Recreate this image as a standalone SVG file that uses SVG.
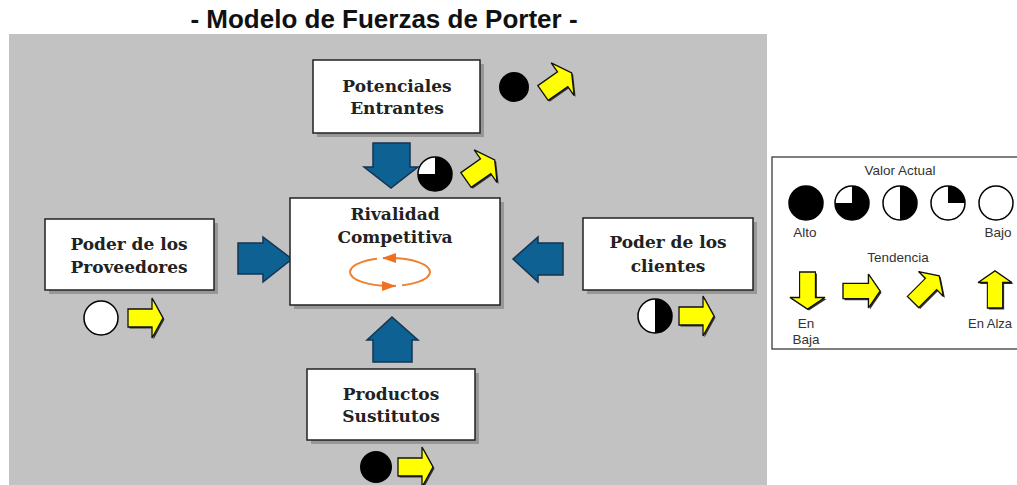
<svg xmlns="http://www.w3.org/2000/svg" xmlns:xlink="http://www.w3.org/1999/xlink" width="1017" height="485" viewBox="0 0 1017 485">
<style>
.title{font-family:"Liberation Sans",Arial,sans-serif;font-weight:bold;font-size:26px;fill:#111}
.box{fill:#fff;stroke:#222;stroke-width:1.5}
.shadow{fill:#7a7a7a;opacity:0.6}
.lbl{font-family:"DejaVu Serif",serif;font-weight:bold;font-size:17px;fill:#222;text-anchor:middle}
.blue{fill:#0d6193;stroke:#16344f;stroke-width:1.5}
.ya{fill:#ffff00;stroke:#111;stroke-width:1.3}
.yas{fill:#333}
.circ{fill:#fff;stroke:#000;stroke-width:1.5}
.blk{fill:#000}
.leg{font-family:"Liberation Sans",Arial,sans-serif;font-size:13.5px;fill:#333;text-anchor:middle}
.legs{font-family:"Liberation Sans",Arial,sans-serif;font-size:13px;fill:#333;text-anchor:start}
</style>
<defs>
<path id="ya" d="M0,-9 H24 V-20 L35,0 L24,20 V9 H0 Z"/>
</defs>
<text class="title" x="384" y="28" text-anchor="middle">- Modelo de Fuerzas de Porter -</text>
<rect x="9" y="34" width="758" height="451" fill="#c2c2c2"/>

<g id="connectors">
<polygon class="blue" points="373,143 410,143 410,167 418,167 391,188 364,167 373,167"/>
<polygon class="blue" points="238,243 263,243 263,237 292,259 263,282 263,274 238,274"/>
<polygon class="blue" points="563,243 538,243 538,237 513,259 538,282 538,275 563,275"/>
<polygon class="blue" points="392,317 418,340 412,340 412,362 373,362 373,340 367,340"/>
</g>

<g id="node-potenciales">
<rect class="shadow" x="317" y="64" width="167" height="73"/>
<rect class="box" x="313" y="60" width="167" height="73"/>
<text class="lbl" x="397" y="92">Potenciales</text>
<text class="lbl" x="397" y="114">Entrantes</text>
<circle class="blk" cx="514" cy="87" r="15"/>
<use href="#ya" class="yas" transform="translate(544.5,94.5) rotate(-35)"/>
<use href="#ya" class="ya" transform="translate(543,93) rotate(-35)"/>
<circle class="circ" cx="435" cy="174" r="17"/>
<path class="blk" d="M435,174 L435,157 A17,17 0 1 1 418,174 Z"/>
<use href="#ya" class="yas" transform="translate(467.5,181.5) rotate(-35)"/>
<use href="#ya" class="ya" transform="translate(466,180) rotate(-35)"/>
</g>

<g id="node-rivalidad">
<rect class="shadow" x="294" y="202" width="210" height="107"/>
<rect class="box" x="290" y="198" width="210" height="107"/>
<text class="lbl" x="395" y="220">Rivalidad</text>
<text class="lbl" x="395" y="243">Competitiva</text>
<ellipse cx="390" cy="272" rx="40" ry="14" fill="none" stroke="#f08030" stroke-width="2"/>
<rect x="377" y="255" width="6" height="5" fill="#fff"/>
<rect x="396" y="284" width="6" height="5" fill="#fff"/>
<polygon points="382,258 396,253 396,263" fill="#f07020"/>
<polygon points="396,286 382,281 382,291" fill="#f07020"/>
</g>

<g id="node-proveedores">
<rect class="shadow" x="49" y="223" width="169" height="71"/>
<rect class="box" x="45" y="219" width="169" height="71"/>
<text class="lbl" x="129" y="250">Poder de los</text>
<text class="lbl" x="129" y="273">Proveedores</text>
<circle class="circ" cx="101" cy="318" r="17"/>
<use href="#ya" class="yas" transform="translate(129.5,319.5)"/>
<use href="#ya" class="ya" transform="translate(128,318)"/>
</g>

<g id="node-clientes">
<rect class="shadow" x="587" y="222" width="170" height="72"/>
<rect class="box" x="583" y="218" width="170" height="72"/>
<text class="lbl" x="668" y="248">Poder de los</text>
<text class="lbl" x="668" y="272">clientes</text>
<circle class="circ" cx="655" cy="316" r="17"/>
<path class="blk" d="M655,299 A17,17 0 0 1 655,333 Z"/>
<use href="#ya" class="yas" transform="translate(680.5,317.5)"/>
<use href="#ya" class="ya" transform="translate(679,316)"/>
</g>

<g id="node-productos">
<rect class="shadow" x="311" y="373" width="168" height="71"/>
<rect class="box" x="307" y="369" width="168" height="71"/>
<text class="lbl" x="391" y="400">Productos</text>
<text class="lbl" x="391" y="422">Sustitutos</text>
<circle class="blk" cx="376" cy="467" r="16"/>
<use href="#ya" class="yas" transform="translate(399.5,468.5)"/>
<use href="#ya" class="ya" transform="translate(398,467)"/>
</g>

<g id="legend">
<rect x="772" y="157" width="260" height="192" fill="#fff" stroke="#555" stroke-width="1.5"/>
<text class="leg" x="900" y="175">Valor Actual</text>
<circle cx="806" cy="203" r="17" fill="#000" stroke="#000" stroke-width="1.5"/>
<circle class="circ" cx="852" cy="203" r="17"/>
<path class="blk" d="M852,203 L852,186 A17,17 0 1 1 835,203 Z"/>
<circle class="circ" cx="900" cy="203" r="17"/>
<path class="blk" d="M900,186 A17,17 0 0 1 900,220 Z"/>
<circle class="circ" cx="948" cy="203" r="17"/>
<path class="blk" d="M948,203 L948,186 A17,17 0 0 1 965,203 Z"/>
<circle class="circ" cx="996" cy="203" r="17"/>
<text class="leg" x="805" y="237">Alto</text>
<text class="leg" x="998" y="237">Bajo</text>
<text class="leg" x="898" y="262">Tendencia</text>
<use href="#ya" class="yas" transform="translate(809,273.5) rotate(90) scale(1.06,0.88)"/>
<use href="#ya" class="ya" transform="translate(807.5,272) rotate(90) scale(1.06,0.88)"/>
<use href="#ya" class="yas" transform="translate(844.5,292.5) scale(1.06,0.85)"/>
<use href="#ya" class="ya" transform="translate(843,291) scale(1.06,0.85)"/>
<use href="#ya" class="yas" transform="translate(914.5,303.5) rotate(-45) scale(1.06,0.88)"/>
<use href="#ya" class="ya" transform="translate(913,302) rotate(-45) scale(1.06,0.88)"/>
<use href="#ya" class="yas" transform="translate(996.5,309.5) rotate(-90) scale(1.06,0.85)"/>
<use href="#ya" class="ya" transform="translate(995,308) rotate(-90) scale(1.06,0.85)"/>
<text class="leg" x="806" y="328">En</text>
<text class="leg" x="806" y="344">Baja</text>
<text class="legs" x="968" y="328">En Alza</text>
</g>
</svg>
